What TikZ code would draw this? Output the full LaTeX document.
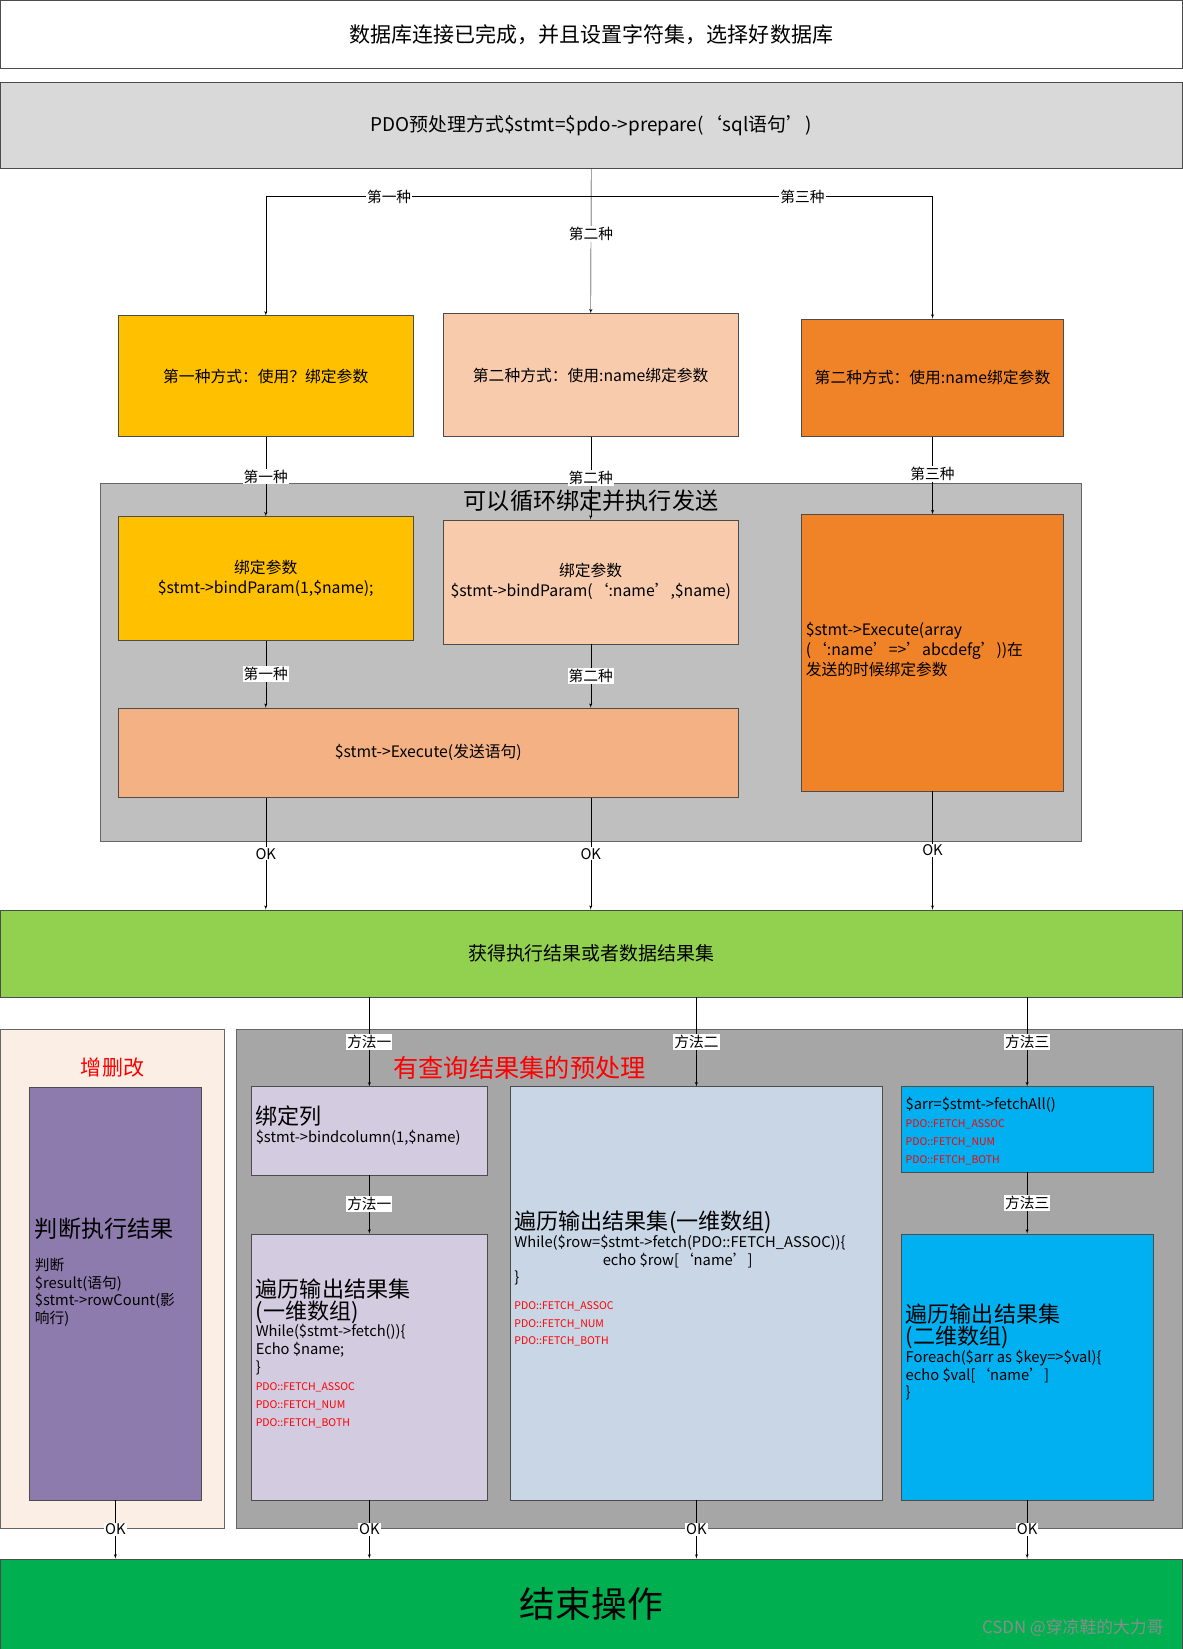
\documentclass[tikz,border=0pt]{standalone}
\usepackage{fontspec}
\setmainfont{Noto Sans CJK SC}
\usetikzlibrary{arrows,positioning}
\definecolor{gold}{HTML}{FFC000}
\definecolor{peach}{HTML}{F8CBAD}
\definecolor{orng}{HTML}{F08228}
\definecolor{salmon}{HTML}{F4B183}
\definecolor{lime}{HTML}{92D050}
\definecolor{dgreen}{HTML}{00B050}
\definecolor{lilac}{HTML}{D3CBE0}
\definecolor{purp}{HTML}{8E7BAE}
\definecolor{steel}{HTML}{C9D6E6}
\definecolor{sky}{HTML}{00B0F0}
\definecolor{cream}{HTML}{FBEEE4}
\tikzset{
  box/.style={draw=black!70, anchor=north west, inner sep=0pt, align=center, font=\fontsize{15}{19}\selectfont},
  panel/.style={draw=black!60, anchor=north west, inner sep=0pt},
  lbl/.style={fill=white, inner sep=1pt, font=\fontsize{14}{16}\selectfont},
  txt/.style={anchor=north west, align=left, inner sep=0pt, font=\fontsize{14}{17}\selectfont},
}
\begin{document}
\begin{tikzpicture}[x=1pt, y=-1pt, >=latex']
\useasboundingbox (0,0) rectangle (1124,1568);
% top
\node(start)[box, minimum width=1124pt, minimum height=65pt, fill=white, font=\fontsize{20}{24}\selectfont] at (0,0){数据库连接已完成，并且设置字符集，选择好数据库};
\node(prep)[box, minimum width=1124pt, minimum height=82pt, fill=black!15, font=\fontsize{18}{22}\selectfont] at (0,78){PDO预处理方式\$stmt=\$pdo->prepare(‘sql语句’)};
% three ways
\node(wayA)[box, minimum width=281pt, minimum height=115pt, fill=gold] at (112,300){第一种方式：使用？绑定参数};
\node(wayB)[box, minimum width=281pt, minimum height=117pt, fill=peach] at (421,298){第二种方式：使用:name绑定参数};
\node(wayC)[box, minimum width=249pt, minimum height=112pt, fill=orng] at (762,303){第二种方式：使用:name绑定参数};
\coordinate(fork) at (562,187);
\draw[->] (prep.south) -- node[lbl, pos=0.45]{第二种} (wayB.north);
\draw[->] (fork) -| (wayA.north);
\draw[->] (fork) -| (wayC.north);
\node[lbl] at (370,187){第一种};
\node[lbl] at (763,187){第三种};
% loop panel
\node(loop)[panel, minimum width=933pt, minimum height=341pt, fill=black!25] at (95,459){};
\node(looptitle)[font=\fontsize{22}{26}\selectfont] at (562,476){可以循环绑定并执行发送};
\node(bindA)[box, minimum width=281pt, minimum height=118pt, fill=gold] at (112,491){绑定参数\\\$stmt->bindParam(1,\$name);};
\node(bindB)[box, minimum width=281pt, minimum height=118pt, fill=peach] at (421,494){绑定参数\\\$stmt->bindParam(‘:name’,\$name)};
\node(execC)[box, minimum width=249pt, minimum height=263pt, fill=orng] at (762,489){};
\node(execCtxt)[txt, font=\fontsize{15}{19}\selectfont] at (766,592){\$stmt->Execute(array\\(‘:name’=>’abcdefg’))在\\发送的时候绑定参数};
\node(exec)[box, minimum width=590pt, minimum height=85pt, fill=salmon] at (112,673){\$stmt->Execute(发送语句)};
\draw[->] (wayA.south) -- node[lbl]{第一种} (bindA.north);
\draw[->] (wayB.south) -- node[lbl]{第二种} (bindB.north);
\draw[->] (wayC.south) -- node[lbl, pos=0.48]{第三种} (execC.north);
\draw[->] (bindA.south) -- node[lbl]{第一种} (exec.north -| bindA);
\draw[->] (bindB.south) -- node[lbl]{第二种} (exec.north -| bindB);
% result
\node(result)[box, minimum width=1124pt, minimum height=83pt, fill=lime, font=\fontsize{18}{22}\selectfont] at (0,865){获得执行结果或者数据结果集};
\draw[->] (exec.south -| bindA) -- node[lbl, pos=0.5]{OK} (result.north -| bindA);
\draw[->] (exec.south -| bindB) -- node[lbl, pos=0.5]{OK} (result.north -| bindB);
\draw[->] (execC.south) -- node[lbl, pos=0.5]{OK} (result.north -| execC);
% left panel
\node(crud)[panel, minimum width=213pt, minimum height=475pt, fill=cream] at (0,978){};
\node(crudtitle)[text=red, font=\fontsize{20}{24}\selectfont] at (107,1015){增删改};
\node(judge)[box, minimum width=163pt, minimum height=392pt, fill=purp] at (28,1034){};
\node(judgetxt)[txt] at (33,1158){{\fontsize{22}{28}\selectfont 判断执行结果}\\[14pt]判断\\\$result(语句)\\\$stmt->rowCount(影\\响行)};
% right panel
\node(query)[panel, minimum width=900pt, minimum height=475pt, fill=black!35] at (224,978){};
\node(querytitle)[text=red, font=\fontsize{24}{28}\selectfont] at (494,1015){有查询结果集的预处理};
\node(col)[box, minimum width=224pt, minimum height=84pt, fill=lilac] at (239,1033){};
\node(coltxt)[txt] at (243,1051){{\fontsize{21}{26}\selectfont 绑定列}\\\$stmt->bindcolumn(1,\$name)};
\node(rowA)[box, minimum width=224pt, minimum height=253pt, fill=lilac] at (239,1173){};
\node(rowAtxt)[txt] at (243,1216){{\fontsize{21}{28}\selectfont 遍历输出结果集}\\{\fontsize{21}{28}\selectfont (一维数组)}\\While(\$stmt->fetch())\{\\Echo \$name;\\\}\\{\color{red}\fontsize{10}{14}\selectfont PDO::FETCH\_ASSOC}\\{\color{red}\fontsize{10}{14}\selectfont PDO::FETCH\_NUM}\\{\color{red}\fontsize{10}{18}\selectfont PDO::FETCH\_BOTH}};
\node(rowB)[box, minimum width=354pt, minimum height=393pt, fill=steel] at (485,1033){};
\node(rowBtxt)[txt] at (489,1151){{\fontsize{21}{28}\selectfont 遍历输出结果集(一维数组)}\\While(\$row=\$stmt->fetch(PDO::FETCH\_ASSOC))\{\\\hspace*{84pt}echo \$row[‘name’]\\\}\\[8pt]{\color{red}\fontsize{10}{14}\selectfont PDO::FETCH\_ASSOC}\\{\color{red}\fontsize{10}{14}\selectfont PDO::FETCH\_NUM}\\{\color{red}\fontsize{10}{18}\selectfont PDO::FETCH\_BOTH}};
\node(all)[box, minimum width=239pt, minimum height=81pt, fill=sky] at (857,1033){};
\node(alltxt)[txt] at (861,1043){\$arr=\$stmt->fetchAll()\\{\color{red}\fontsize{10}{14}\selectfont PDO::FETCH\_ASSOC}\\{\color{red}\fontsize{10}{14}\selectfont PDO::FETCH\_NUM}\\{\color{red}\fontsize{10}{14}\selectfont PDO::FETCH\_BOTH}};
\node(rowC)[box, minimum width=239pt, minimum height=253pt, fill=sky] at (857,1173){};
\node(rowCtxt)[txt] at (861,1240){{\fontsize{21}{28}\selectfont 遍历输出结果集}\\{\fontsize{21}{28}\selectfont (二维数组)}\\Foreach(\$arr as \$key=>\$val)\{\\echo \$val[‘name’]\\\}};
\draw[->] (result.south -| col) -- node[lbl, pos=0.5]{方法一} (col.north);
\draw[->] (result.south -| rowB) -- node[lbl, pos=0.5]{方法二} (rowB.north);
\draw[->] (result.south -| all) -- node[lbl, pos=0.5]{方法三} (all.north);
\draw[->] (col.south) -- node[lbl]{方法一} (rowA.north);
\draw[->] (all.south) -- node[lbl]{方法三} (rowC.north);
% end
\node(finish)[box, minimum width=1124pt, minimum height=86pt, fill=dgreen, font=\fontsize{34}{40}\selectfont] at (0,1482){结束操作};
\foreach \src in {judge,rowA,rowB,rowC}
  \draw[->] (\src.south) -- node[lbl, pos=0.5]{OK} (finish.north -| \src);
\node(mark)[text=black!45, anchor=east, font=\fontsize{16}{18}\selectfont] at (1110,1548){CSDN @穿凉鞋的大力哥};
\end{tikzpicture}
\end{document}
